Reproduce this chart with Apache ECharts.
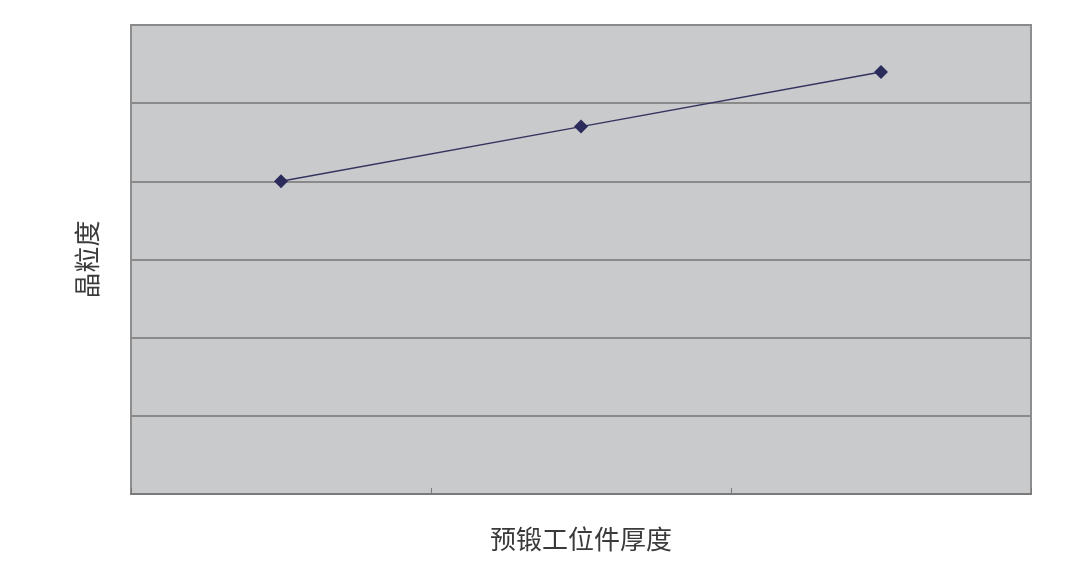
<!DOCTYPE html>
<html>
<head>
<meta charset="utf-8">
<script src="https://cdn.jsdelivr.net/npm/echarts@6/dist/echarts.min.js"></script>
<style>html,body{margin:0;padding:0;background:#fff;}#c{width:1080px;height:570px;}</style>
</head>
<body>
<div id="c"></div>
<script>
var categories = ['A', 'B', 'C'];
var grainSize = [4.0, 4.7, 5.4];
var xName = '预锻工位件厚度';
var yName = '晶粒度';

var chart = echarts.init(document.getElementById('c'));
chart.setOption({
  animation: false,
  backgroundColor: '#ffffff',
  grid: {
    show: true, left: 131, right: 49, top: 25, bottom: 76,
    backgroundColor: '#c9cacc', borderColor: '#8e8e8e', borderWidth: 2
  },
  xAxis: {
    type: 'category', data: categories, boundaryGap: true,
    name: xName, nameLocation: 'middle', nameGap: 32,
    nameTextStyle: { fontSize: 26, color: '#3a3a3a', fontFamily: 'Noto Sans CJK SC' },
    axisLine: { show: true, lineStyle: { color: '#7a7a7a', width: 2 } },
    axisTick: { show: true, inside: true, length: 6, lineStyle: { color: '#7a7a7a', width: 1 } },
    axisLabel: { show: false },
    splitLine: { show: false }
  },
  yAxis: {
    type: 'value', min: 0, max: 6, interval: 1,
    name: yName, nameLocation: 'middle', nameGap: 31, nameRotate: 90,
    nameTextStyle: { fontSize: 26, color: '#3a3a3a', fontFamily: 'Noto Sans CJK SC' },
    axisLine: { show: false },
    axisTick: { show: false },
    axisLabel: { show: false },
    splitLine: { show: true, lineStyle: { color: '#8a8a8a', width: 2 } }
  },
  series: [{
    type: 'line', data: grainSize,
    symbol: 'diamond', symbolSize: 14,
    itemStyle: { color: '#2b2b5c' },
    lineStyle: { color: '#33335f', width: 1.5 }
  }]
});
</script>
</body>
</html>
